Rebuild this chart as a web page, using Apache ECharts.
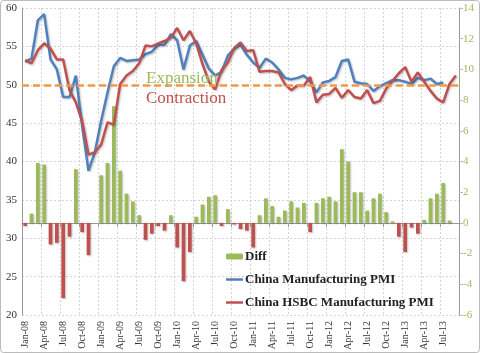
<!DOCTYPE html>
<html><head><meta charset="utf-8">
<script src="https://cdn.jsdelivr.net/npm/echarts@6/dist/echarts.min.js"></script>
<style>html,body{margin:0;padding:0;background:#fff}#c{width:480px;height:353px}</style>
</head><body><div id="c"></div>
<script>
const categories = [
 'Jan-08','Feb-08','Mar-08','Apr-08','May-08','Jun-08','Jul-08','Aug-08','Sep-08','Oct-08','Nov-08','Dec-08',
 'Jan-09','Feb-09','Mar-09','Apr-09','May-09','Jun-09','Jul-09','Aug-09','Sep-09','Oct-09','Nov-09','Dec-09',
 'Jan-10','Feb-10','Mar-10','Apr-10','May-10','Jun-10','Jul-10','Aug-10','Sep-10','Oct-10','Nov-10','Dec-10',
 'Jan-11','Feb-11','Mar-11','Apr-11','May-11','Jun-11','Jul-11','Aug-11','Sep-11','Oct-11','Nov-11','Dec-11',
 'Jan-12','Feb-12','Mar-12','Apr-12','May-12','Jun-12','Jul-12','Aug-12','Sep-12','Oct-12','Nov-12','Dec-12',
 'Jan-13','Feb-13','Mar-13','Apr-13','May-13','Jun-13','Jul-13','Aug-13','Sep-13'
];
const officialPMI = [
 53.0,53.4,58.4,59.2,53.3,52.0,48.4,48.4,51.2,44.6,38.8,41.2,
 45.3,49.0,52.4,53.5,53.1,53.2,53.3,54.0,54.3,55.2,55.2,56.6,
 55.8,52.0,55.1,55.7,53.9,52.1,51.2,51.7,53.8,54.7,55.2,53.9,
 52.9,52.2,53.4,52.9,52.0,50.9,50.7,50.9,51.2,50.4,49.0,50.3,
 50.5,51.0,53.1,53.3,50.4,50.2,50.1,49.2,49.8,50.2,50.6,50.6,
 50.4,50.1,50.9,50.6,50.8,50.1,50.3,null,null
];
const hsbcPMI = [
 53.2,52.8,54.5,55.4,54.7,53.3,53.3,49.3,47.7,45.2,40.9,41.2,
 42.2,45.1,44.8,50.1,51.2,51.8,52.8,55.1,55.0,55.4,55.7,56.1,
 57.4,55.8,57.0,55.4,52.7,50.4,49.4,51.9,52.9,54.8,55.5,54.4,
 54.5,51.7,51.8,51.8,51.6,50.1,49.3,49.9,49.9,51.0,47.7,48.7,
 48.8,49.6,48.3,49.3,48.4,48.2,49.3,47.6,47.9,49.5,50.5,51.5,
 52.3,50.4,51.6,50.4,49.2,48.2,47.7,50.1,51.2
];
const diffValues = [
 -0.2,0.6,3.9,3.8,-1.4,-1.3,-4.9,-0.9,3.5,-0.6,-2.1,0.0,
 3.1,3.9,7.6,3.4,1.9,1.4,0.5,-1.1,-0.7,-0.2,-0.5,0.5,
 -1.6,-3.8,-1.9,0.4,1.2,1.7,1.8,-0.2,0.9,-0.1,-0.4,-0.5,
 -1.6,0.5,1.6,1.1,0.4,0.8,1.4,1.0,1.3,-0.6,1.3,1.6,
 1.7,1.4,4.8,4.0,2.0,2.0,0.8,1.6,1.9,0.7,0.1,-0.9,
 -1.9,-0.3,-0.7,0.2,1.6,1.9,2.6,0.15,null
];
const leftAxisRange = [20, 60, 5];
const rightAxisRange = [-6, 14, 2];
const thresholdValue = 50;
const seriesNames = ['Diff', 'China Manufacturing PMI', 'China HSBC Manufacturing PMI'];

const GREEN = '#9bbb59', BLUE = '#4f81bd', RED = '#c0504d', ORANGE = '#f79646';
const SERIF = "'Liberation Serif', 'DejaVu Serif', serif";
const chart = echarts.init(document.getElementById('c'));
const shadow = {shadowColor: 'rgba(0,0,0,0.25)', shadowBlur: 2, shadowOffsetX: 1, shadowOffsetY: 1};
const legendText = {fontFamily: SERIF, fontSize: 13, fontWeight: 'bold', color: '#222', padding: [0, 0, 0, -3]};
chart.setOption({
  backgroundColor: '#fff',
  animation: false,
  grid: {left: 22, right: 21, top: 8, bottom: 38},
  xAxis: {
    type: 'category', data: categories, boundaryGap: true,
    axisLine: {lineStyle: {color: '#999'}},
    axisTick: {show: true, interval: 2, length: 4, lineStyle: {color: '#999'}},
    axisLabel: {interval: 2, rotate: 90, margin: 6, fontFamily: SERIF, fontSize: 10, color: '#333'},
    splitLine: {show: true, interval: 2, lineStyle: {color: '#d4d4d4', type: [2, 2]}}
  },
  yAxis: [{
    type: 'value', min: leftAxisRange[0], max: leftAxisRange[1], interval: leftAxisRange[2], position: 'left',
    axisLine: {show: true, lineStyle: {color: '#999'}},
    axisTick: {show: false},
    axisLabel: {fontFamily: SERIF, fontSize: 11, color: '#333', margin: 5},
    splitLine: {show: true, lineStyle: {color: '#d4d4d4', type: [2, 2]}}
  }, {
    type: 'value', min: rightAxisRange[0], max: rightAxisRange[1], interval: rightAxisRange[2], position: 'right',
    axisLine: {show: true, lineStyle: {color: '#999'}},
    axisTick: {show: true, length: 4, lineStyle: {color: '#bbb'}},
    axisLabel: {fontFamily: SERIF, fontSize: 11, color: GREEN, margin: 4},
    splitLine: {show: false}
  }],
  legend: [{
    data: [{name: seriesNames[0], itemStyle: {color: GREEN}}],
    orient: 'vertical', left: 221, top: 245, itemWidth: 17, itemHeight: 6,
    textStyle: legendText
  }, {
    data: [
      {name: seriesNames[1], icon: 'rect', itemStyle: {color: BLUE}},
      {name: seriesNames[2], icon: 'rect', itemStyle: {color: RED}}
    ],
    orient: 'vertical', left: 221, top: 268, itemWidth: 17, itemHeight: 2.5, itemGap: 10,
    textStyle: legendText
  }],
  graphic: [
    {type: 'rect', silent: true, shape: {x: 0.5, y: 0.5, width: 479, height: 352, r: 3}, style: {fill: 'none', stroke: '#bbb', lineWidth: 1}},
    {type: 'text', silent: true, left: 146, top: 70, z: 10, style: {text: 'Expansion', fill: GREEN, font: "17px 'Liberation Serif'"}},
    {type: 'text', silent: true, left: 146, top: 90, z: 10, style: {text: 'Contraction', fill: RED, font: "17px 'Liberation Serif'"}}
  ],
  series: [{
    name: seriesNames[0], type: 'bar', yAxisIndex: 1, data: diffValues, barWidth: '58%',
    itemStyle: Object.assign({color: p => (p.value >= 0 ? GREEN : RED)}, shadow)
  }, {
    name: seriesNames[1], type: 'line', yAxisIndex: 0, data: officialPMI, symbol: 'none', connectNulls: false,
    itemStyle: {color: BLUE},
    lineStyle: Object.assign({color: BLUE, width: 2.5}, shadow),
    markLine: {silent: true, symbol: 'none', label: {show: false},
      lineStyle: {color: ORANGE, width: 2.5, type: [7, 4]},
      data: [{yAxis: thresholdValue}]}
  }, {
    name: seriesNames[2], type: 'line', yAxisIndex: 0, data: hsbcPMI, symbol: 'none',
    itemStyle: {color: RED},
    lineStyle: Object.assign({color: RED, width: 2.5}, shadow)
  }]
});
</script>
</body></html>
